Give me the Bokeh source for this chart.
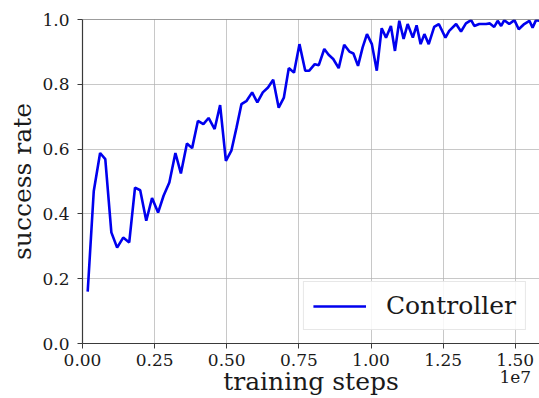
from bokeh.plotting import figure
from bokeh.models import Range1d, Span, Legend, LegendItem, FixedTicker
from bokeh.embed import file_html
from bokeh.resources import INLINE

# training steps (units of 1e7) and success rate
steps = [0.018, 0.039, 0.061, 0.079, 0.10, 0.12, 0.141, 0.162, 0.182, 0.20,
         0.221, 0.241, 0.262, 0.281, 0.301, 0.322, 0.341, 0.362, 0.38, 0.40,
         0.419, 0.437, 0.458, 0.477, 0.497, 0.516, 0.534, 0.551, 0.569, 0.588,
         0.606, 0.625, 0.643, 0.661, 0.68, 0.698, 0.715, 0.733, 0.752, 0.772,
         0.786, 0.805, 0.819, 0.838, 0.853, 0.869, 0.888, 0.907, 0.925, 0.939,
         0.955, 0.971, 0.986, 1.003, 1.02, 1.037, 1.052, 1.069, 1.083, 1.098,
         1.113, 1.127, 1.145, 1.158, 1.172, 1.185, 1.2, 1.219, 1.235, 1.258,
         1.271, 1.295, 1.312, 1.329, 1.347, 1.358, 1.375, 1.399, 1.412, 1.427,
         1.439, 1.451, 1.462, 1.479, 1.497, 1.512, 1.531, 1.549, 1.56, 1.572,
         1.586]
success = [0.16, 0.47, 0.588, 0.569, 0.343, 0.296, 0.327, 0.312, 0.481, 0.473,
           0.379, 0.449, 0.404, 0.456, 0.497, 0.588, 0.525, 0.617, 0.603, 0.687,
           0.677, 0.696, 0.662, 0.736, 0.564, 0.595, 0.667, 0.739, 0.749, 0.775,
           0.744, 0.775, 0.79, 0.814, 0.728, 0.759, 0.85, 0.836, 0.924, 0.842,
           0.842, 0.862, 0.859, 0.909, 0.891, 0.878, 0.85, 0.922, 0.901, 0.895,
           0.857, 0.914, 0.955, 0.924, 0.842, 0.973, 0.944, 0.98, 0.903, 0.996,
           0.94, 0.986, 0.944, 0.982, 0.924, 0.955, 0.924, 0.977, 0.986, 0.944,
           0.965, 0.986, 0.963, 0.988, 0.998, 0.98, 0.986, 0.986, 0.988, 0.977,
           0.996, 0.98, 0.998, 0.986, 0.998, 0.97, 0.986, 0.996, 0.975, 0.998,
           0.996]
x_ticks = [0.0, 0.25, 0.5, 0.75, 1.0, 1.25, 1.5]
x_tick_labels = ["0.00", "0.25", "0.50", "0.75", "1.00", "1.25", "1.50\n1e7"]
y_ticks = [0.0, 0.2, 0.4, 0.6, 0.8, 1.0]
y_tick_labels = ["0.0", "0.2", "0.4", "0.6", "0.8", "1.0"]

FONT = "DejaVu Serif"
SPINE = "#3a3a3a"
TXT = "#1a1a1a"

p = figure(width=539, height=398, output_backend="svg", toolbar_location=None,
           x_range=Range1d(0, 1.584), y_range=Range1d(0, 1.0),
           min_border_left=82, min_border_right=0, min_border_top=19,
           min_border_bottom=55)
p.outline_line_color = None
p.background_fill_color = "white"
p.border_fill_color = "white"

r = p.line(steps, success, line_color="#0000ee", line_width=2.6)

for ax in (p.xaxis[0], p.yaxis[0]):
    ax.axis_line_color = SPINE
    ax.axis_line_width = 1.2
    ax.major_tick_line_color = SPINE
    ax.major_tick_out = 5
    ax.major_tick_in = 0
    ax.minor_tick_line_color = None
    ax.major_label_text_font = FONT
    ax.major_label_text_font_size = "17px"
    ax.major_label_text_color = TXT
    ax.axis_label_text_font = FONT
    ax.axis_label_text_font_size = "25px"
    ax.axis_label_text_font_style = "normal"
    ax.axis_label_text_color = TXT

p.xaxis.ticker = FixedTicker(ticks=x_ticks)
p.xaxis.major_label_overrides = dict(zip(x_ticks, x_tick_labels))
p.xaxis.major_label_text_line_height = 0.85
p.yaxis.ticker = FixedTicker(ticks=y_ticks)
p.yaxis.major_label_overrides = dict(zip(y_ticks, y_tick_labels))
p.xaxis.axis_label = "training steps"
p.yaxis.axis_label = "success rate"
p.xaxis.major_label_standoff = 1
p.yaxis.major_label_standoff = 8
p.xaxis.axis_label_standoff = -23
p.yaxis.axis_label_standoff = 2

p.xgrid.ticker = FixedTicker(ticks=x_ticks)
p.ygrid.ticker = FixedTicker(ticks=y_ticks)
p.grid.grid_line_color = "#b0b0b0"
p.grid.grid_line_alpha = 0.7
p.grid.grid_line_width = 1

p.add_layout(Span(location=1.0, dimension="width", line_color=SPINE, line_width=1.2))

legend = Legend(items=[LegendItem(label="Controller", renderers=[r])],
                location="bottom_right")
legend.label_text_font = FONT
legend.label_text_font_size = "25px"
legend.label_text_color = TXT
legend.label_height = 27
legend.glyph_width = 53
legend.label_standoff = 20
legend.padding = 9
legend.margin = 13
legend.border_line_color = "#d0d0d0"
legend.border_line_width = 1
legend.background_fill_alpha = 0.85
p.add_layout(legend)

open("out.html", "w").write(file_html(p, INLINE))
